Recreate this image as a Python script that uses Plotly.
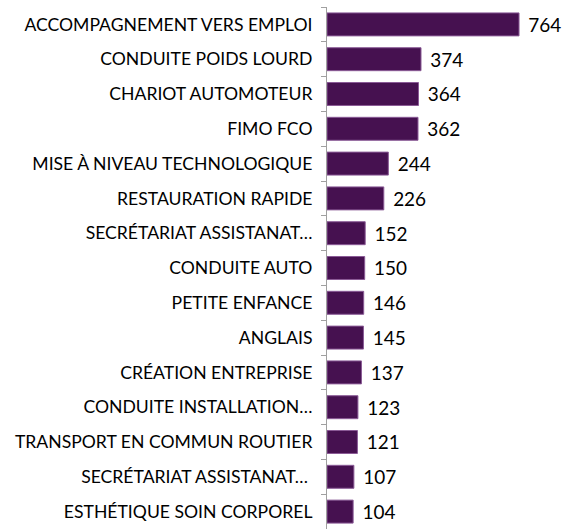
import plotly.graph_objects as go

categories = [
    "ACCOMPAGNEMENT VERS EMPLOI",
    "CONDUITE POIDS LOURD",
    "CHARIOT AUTOMOTEUR",
    "FIMO FCO",
    "MISE À NIVEAU TECHNOLOGIQUE",
    "RESTAURATION RAPIDE",
    "SECRÉTARIAT ASSISTANAT…",
    "CONDUITE AUTO",
    "PETITE ENFANCE",
    "ANGLAIS",
    "CRÉATION ENTREPRISE",
    "CONDUITE INSTALLATION…",
    "TRANSPORT EN COMMUN ROUTIER",
    "SECRÉTARIAT ASSISTANAT… ",
    "ESTHÉTIQUE SOIN CORPOREL",
]
values = [764, 374, 364, 362, 244, 226, 152, 150, 146, 145, 137, 123, 121, 107, 104]

FONT = "Lato, sans-serif"

fig = go.Figure(
    go.Bar(
        x=values,
        y=categories,
        orientation="h",
        marker=dict(color="#461150", line=dict(color="#8a5a96", width=1)),
        text=values,
        texttemplate="\u2004%{x}",
        textposition="outside",
        textfont=dict(family=FONT, size=19, color="#000000"),
        cliponaxis=False,
        width=0.66,
    )
)

fig.update_layout(
    width=568,
    height=529,
    margin=dict(l=327, r=8, t=7, b=0, autoexpand=False),
    paper_bgcolor="white",
    plot_bgcolor="white",
    showlegend=False,
    font=dict(family=FONT, size=17.6, color="#000000"),
)
fig.update_xaxes(
    range=[0, 927],
    showticklabels=False,
    showline=False,
    ticks="",
    showgrid=False,
    zeroline=False,
    automargin=False,
)
fig.update_yaxes(
    autorange="reversed",
    type="category",
    automargin=False,
    showline=True,
    linecolor="#a0a0a0",
    linewidth=1,
    ticks="outside",
    tickson="boundaries",
    ticklen=5,
    tickcolor="#a0a0a0",
    tickwidth=1,
    showgrid=False,
    ticklabelstandoff=10,
    tickfont=dict(family=FONT, size=17.6, color="#000000"),
)

# remove the browser's default 8px body margin so the 568x529 figure fills the window
fig.write_html(
    "out.html",
    config={"displayModeBar": False},
    post_script="document.body.style.margin='0';document.body.style.overflow='hidden';",
)
